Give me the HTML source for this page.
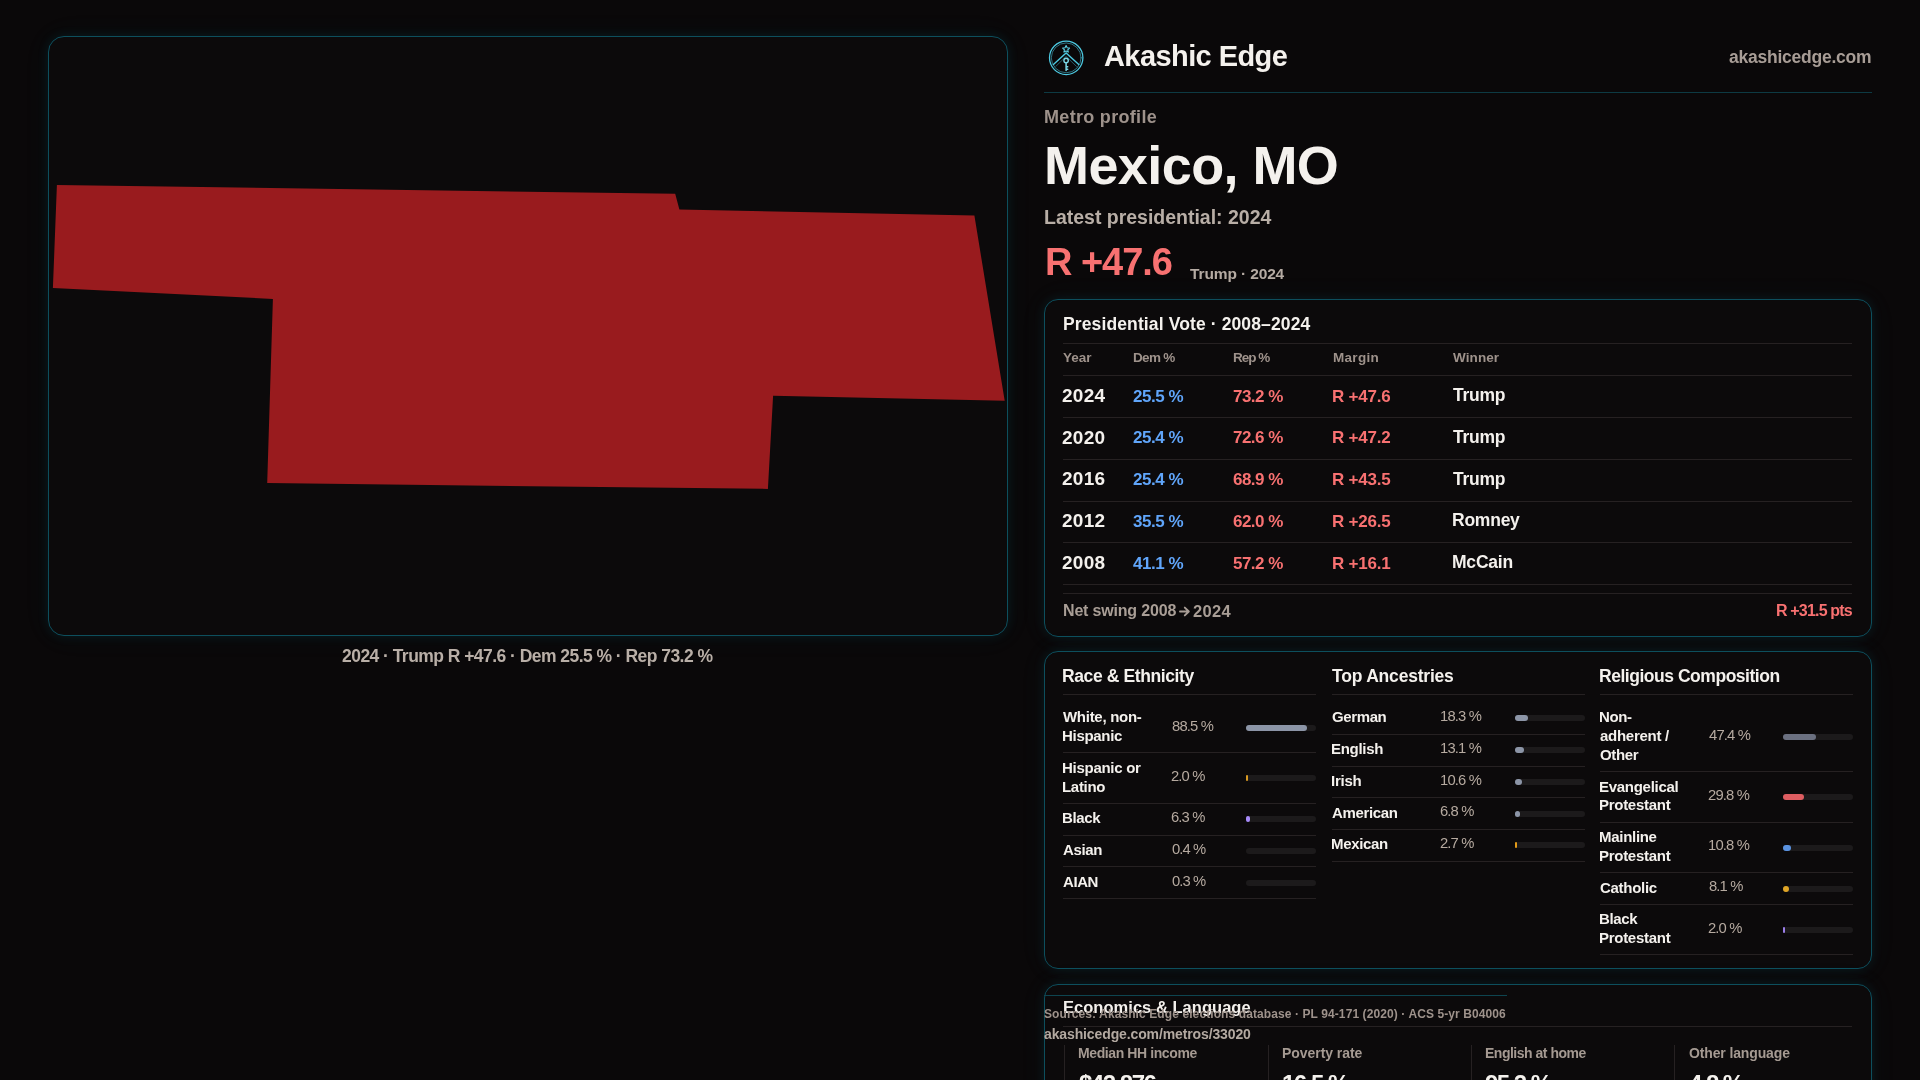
<!DOCTYPE html>
<html><head><meta charset="utf-8"><title>Mexico, MO — Akashic Edge</title>
<style>
html,body{margin:0;padding:0}
body{width:1920px;height:1080px;overflow:hidden;background:#0a0809;position:relative;font-family:"Liberation Sans",sans-serif}
.abs{position:absolute}
.t{position:absolute;white-space:nowrap;line-height:1;will-change:transform}
.card{position:absolute;box-sizing:border-box;background:#0c0a0b;border:1px solid #0d4f5d;box-shadow:0 0 12px rgba(20,150,170,0.12),0 0 30px rgba(20,150,170,0.05)}
</style></head><body>
<div class="card" style="left:48px;top:36px;width:960px;height:600px;border-radius:16px"></div>
<svg class="abs" width="1920" height="1080" style="left:0;top:0"><polygon points="56.9,185.0 675.2,193.8 679.4,209.6 974.4,215.6 1004.7,400.8 773.1,395.8 767.9,488.9 267.2,483.1 272.9,298.9 52.9,288.0" fill="#991b1e"/></svg>
<div class="t" style="left:342.27px;top:647.88px;font-size:17.5px;font-weight:700;color:#b9afa7;letter-spacing:-0.542px;">2024 · Trump R +47.6 · Dem 25.5 % · Rep 73.2 %</div>
<svg class="abs" style="left:1046px;top:38px" width="40" height="40" viewBox="0 0 40 40">
<g fill="none" stroke="#4cc8e0" stroke-linecap="round">
<circle cx="20.2" cy="19.85" r="16.7" stroke-width="1.3"/><circle cx="20.2" cy="19.85" r="14.9" stroke-width="0.8" opacity="0.7"/>
<path d="M7.4 26.4 L20.1 14.9 L32.8 26.4" stroke-width="1.4"/>
<path d="M9.8 28.4 L20.1 18.4 L30.4 28.4" stroke-width="0.8" opacity="0.55"/>
<circle cx="20.1" cy="22.5" r="2.2" stroke="#7ad6e6" stroke-width="1.4"/>
<path d="M20.1 24.7 V32.4 M20.1 28.8 h1.6 M20.1 31.2 h1.6" stroke="#7ad6e6" stroke-width="1.5"/>
<path d="M20.1 7.6 l1.05 2.2 2.4 .3 -1.75 1.65 .45 2.35 -2.15 -1.15 -2.15 1.15 .45 -2.35 -1.75 -1.65 2.4 -.3z" stroke="#5ccee3" stroke-width="1.1" stroke-linejoin="round"/>
</g>
</svg>
<div class="t" style="left:1104.35px;top:41.65px;font-size:29px;font-weight:700;color:#f4f1ed;letter-spacing:-0.580px;">Akashic Edge</div>
<div class="t" style="left:1728.70px;top:48.88px;font-size:17.5px;font-weight:700;color:#a89d96;letter-spacing:-0.241px;">akashicedge.com</div>
<div class="abs" style="left:1044px;top:92px;width:828px;height:1px;background:#0d3a43"></div>
<div class="t" style="left:1043.58px;top:108.46px;font-size:18px;font-weight:700;color:#9e928b;letter-spacing:0.312px;">Metro profile</div>
<div class="t" style="left:1043.97px;top:138.28px;font-size:54px;font-weight:700;color:#f4f1ed;letter-spacing:-0.583px;">Mexico, MO</div>
<div class="t" style="left:1043.55px;top:207.79px;font-size:19.5px;font-weight:700;color:#b8aea6;letter-spacing:-0.010px;">Latest presidential: 2024</div>
<div class="t" style="left:1044.50px;top:243.23px;font-size:38px;font-weight:700;color:#f87171;letter-spacing:-1.042px;">R +47.6</div>
<div class="t" style="left:1189.58px;top:266.28px;font-size:15.5px;font-weight:700;color:#b5aba3;letter-spacing:-0.125px;">Trump · 2024</div>
<div class="card" style="left:1044px;top:299px;width:828px;height:338px;border-radius:14px"></div>
<div class="t" style="left:1062.78px;top:315.98px;font-size:17.5px;font-weight:700;color:#f4f1ed;letter-spacing:0.121px;">Presidential Vote · 2008–2024</div>
<div class="abs" style="left:1063px;top:343px;width:789px;height:1px;background:#262122"></div>
<div class="t" style="left:1063.25px;top:351.47px;font-size:13.5px;font-weight:700;color:#9e928b;letter-spacing:-0.042px;">Year</div>
<div class="t" style="left:1132.62px;top:351.47px;font-size:13.5px;font-weight:700;color:#9e928b;letter-spacing:-0.688px;">Dem %</div>
<div class="t" style="left:1232.62px;top:351.47px;font-size:13.5px;font-weight:700;color:#9e928b;letter-spacing:-1.000px;">Rep %</div>
<div class="t" style="left:1332.62px;top:351.47px;font-size:13.5px;font-weight:700;color:#9e928b;letter-spacing:0.300px;">Margin</div>
<div class="t" style="left:1453.30px;top:351.47px;font-size:13.5px;font-weight:700;color:#9e928b;letter-spacing:0.100px;">Winner</div>
<div class="abs" style="left:1063px;top:375px;width:789px;height:1px;background:#262122"></div>
<div class="t" style="left:1062.47px;top:385.81px;font-size:19px;font-weight:700;color:#f4f1ed;letter-spacing:0.258px;">2024</div>
<div class="t" style="left:1132.58px;top:387.51px;font-size:17px;font-weight:700;color:#60a5fa;letter-spacing:-0.470px;">25.5 %</div>
<div class="t" style="left:1232.75px;top:387.51px;font-size:17px;font-weight:700;color:#f87171;letter-spacing:-0.525px;">73.2 %</div>
<div class="t" style="left:1332.38px;top:387.51px;font-size:17px;font-weight:700;color:#f87171;letter-spacing:-0.208px;">R +47.6</div>
<div class="t" style="left:1453.17px;top:387.08px;font-size:17.5px;font-weight:700;color:#f4f1ed;letter-spacing:-0.231px;">Trump</div>
<div class="abs" style="left:1063px;top:417px;width:789px;height:1px;background:#262122"></div>
<div class="t" style="left:1062.47px;top:427.56px;font-size:19px;font-weight:700;color:#f4f1ed;letter-spacing:0.254px;">2020</div>
<div class="t" style="left:1132.58px;top:429.26px;font-size:17px;font-weight:700;color:#60a5fa;letter-spacing:-0.470px;">25.4 %</div>
<div class="t" style="left:1232.75px;top:429.26px;font-size:17px;font-weight:700;color:#f87171;letter-spacing:-0.525px;">72.6 %</div>
<div class="t" style="left:1332.38px;top:429.26px;font-size:17px;font-weight:700;color:#f87171;letter-spacing:-0.208px;">R +47.2</div>
<div class="t" style="left:1453.17px;top:428.83px;font-size:17.5px;font-weight:700;color:#f4f1ed;letter-spacing:-0.231px;">Trump</div>
<div class="abs" style="left:1063px;top:459px;width:789px;height:1px;background:#262122"></div>
<div class="t" style="left:1062.47px;top:469.31px;font-size:19px;font-weight:700;color:#f4f1ed;letter-spacing:0.254px;">2016</div>
<div class="t" style="left:1132.58px;top:471.01px;font-size:17px;font-weight:700;color:#60a5fa;letter-spacing:-0.470px;">25.4 %</div>
<div class="t" style="left:1232.88px;top:471.01px;font-size:17px;font-weight:700;color:#f87171;letter-spacing:-0.526px;">68.9 %</div>
<div class="t" style="left:1332.38px;top:471.01px;font-size:17px;font-weight:700;color:#f87171;letter-spacing:-0.209px;">R +43.5</div>
<div class="t" style="left:1453.17px;top:470.58px;font-size:17.5px;font-weight:700;color:#f4f1ed;letter-spacing:-0.231px;">Trump</div>
<div class="abs" style="left:1063px;top:501px;width:789px;height:1px;background:#262122"></div>
<div class="t" style="left:1062.47px;top:511.06px;font-size:19px;font-weight:700;color:#f4f1ed;letter-spacing:0.254px;">2012</div>
<div class="t" style="left:1132.83px;top:512.76px;font-size:17px;font-weight:700;color:#60a5fa;letter-spacing:-0.472px;">35.5 %</div>
<div class="t" style="left:1232.88px;top:512.76px;font-size:17px;font-weight:700;color:#f87171;letter-spacing:-0.526px;">62.0 %</div>
<div class="t" style="left:1332.38px;top:512.76px;font-size:17px;font-weight:700;color:#f87171;letter-spacing:-0.209px;">R +26.5</div>
<div class="t" style="left:1452.17px;top:512.33px;font-size:17.5px;font-weight:700;color:#f4f1ed;letter-spacing:-0.238px;">Romney</div>
<div class="abs" style="left:1063px;top:542px;width:789px;height:1px;background:#262122"></div>
<div class="t" style="left:1062.47px;top:552.81px;font-size:19px;font-weight:700;color:#f4f1ed;letter-spacing:0.255px;">2008</div>
<div class="t" style="left:1132.95px;top:554.51px;font-size:17px;font-weight:700;color:#60a5fa;letter-spacing:-0.473px;">41.1 %</div>
<div class="t" style="left:1233.00px;top:554.51px;font-size:17px;font-weight:700;color:#f87171;letter-spacing:-0.528px;">57.2 %</div>
<div class="t" style="left:1332.38px;top:554.51px;font-size:17px;font-weight:700;color:#f87171;letter-spacing:-0.209px;">R +16.1</div>
<div class="t" style="left:1452.17px;top:554.08px;font-size:17.5px;font-weight:700;color:#f4f1ed;letter-spacing:-0.211px;">McCain</div>
<div class="abs" style="left:1063px;top:584px;width:789px;height:1px;background:#262122"></div>
<div class="abs" style="left:1063px;top:593px;width:789px;height:1px;background:#262122"></div>
<div class="t" style="left:1062.75px;top:603.35px;font-size:16px;font-weight:700;color:#a99e96;letter-spacing:-0.179px;">Net swing 2008</div>
<svg class="abs" style="left:1179px;top:606px" width="12" height="11" viewBox="0 0 12 11"><path d="M1 5.5 H9.5 M5.8 1.6 L9.8 5.5 L5.8 9.4" fill="none" stroke="#a99e96" stroke-width="1.9" stroke-linecap="round" stroke-linejoin="round"/></svg>
<div class="t" style="left:1192.90px;top:602.93px;font-size:16.5px;font-weight:700;color:#a99e96;letter-spacing:0.358px;">2024</div>
<div class="t" style="left:1775.50px;top:603.35px;font-size:16px;font-weight:700;color:#f87171;letter-spacing:-0.825px;">R +31.5 pts</div>
<div class="card" style="left:1044px;top:651px;width:828px;height:318px;border-radius:14px"></div>
<div class="t" style="left:1062.38px;top:667.68px;font-size:17.5px;font-weight:700;color:#f4f1ed;letter-spacing:-0.392px;">Race &amp; Ethnicity</div>
<div class="abs" style="left:1063px;top:694px;width:253px;height:1px;background:#262122"></div>
<div class="t" style="left:1063.30px;top:709.30px;font-size:15px;font-weight:700;color:#f4f1ed;letter-spacing:-0.284px;">White, non-</div>
<div class="t" style="left:1062.30px;top:728.05px;font-size:15px;font-weight:700;color:#f4f1ed;letter-spacing:-0.305px;">Hispanic</div>
<div class="t" style="left:1171.58px;top:718.52px;font-size:14.8px;font-weight:400;color:#b6aaa0;letter-spacing:-0.829px;">88.5 %</div>
<div class="abs" style="left:1246px;top:724.75px;width:70px;height:6px;border-radius:3px;background:#1c1a1b"></div>
<div class="abs" style="left:1246px;top:724.75px;width:61.33px;height:6px;border-radius:3px;background:#8c95a7"></div>
<div class="abs" style="left:1063px;top:752px;width:253px;height:1px;background:#262122"></div>
<div class="t" style="left:1062.30px;top:759.80px;font-size:15px;font-weight:700;color:#f4f1ed;letter-spacing:-0.282px;">Hispanic or</div>
<div class="t" style="left:1062.30px;top:778.55px;font-size:15px;font-weight:700;color:#f4f1ed;letter-spacing:-0.305px;">Latino</div>
<div class="t" style="left:1171.45px;top:769.02px;font-size:14.8px;font-weight:400;color:#b6aaa0;letter-spacing:-0.865px;">2.0 %</div>
<div class="abs" style="left:1246px;top:775.25px;width:70px;height:6px;border-radius:3px;background:#1c1a1b"></div>
<div class="abs" style="left:1246px;top:775.25px;width:1.50px;height:6px;border-radius:1px;background:#d99a22"></div>
<div class="abs" style="left:1063px;top:803px;width:253px;height:1px;background:#262122"></div>
<div class="t" style="left:1062.30px;top:810.30px;font-size:15px;font-weight:700;color:#f4f1ed;letter-spacing:-0.341px;">Black</div>
<div class="t" style="left:1171.45px;top:810.14px;font-size:14.8px;font-weight:400;color:#b6aaa0;letter-spacing:-0.865px;">6.3 %</div>
<div class="abs" style="left:1246px;top:816.38px;width:70px;height:6px;border-radius:3px;background:#1c1a1b"></div>
<div class="abs" style="left:1246px;top:816.38px;width:4.41px;height:6px;border-radius:3px;background:#a78bfa"></div>
<div class="abs" style="left:1063px;top:835px;width:253px;height:1px;background:#262122"></div>
<div class="t" style="left:1062.92px;top:842.05px;font-size:15px;font-weight:700;color:#f4f1ed;letter-spacing:-0.346px;">Asian</div>
<div class="t" style="left:1171.70px;top:841.89px;font-size:14.8px;font-weight:400;color:#b6aaa0;letter-spacing:-0.899px;">0.4 %</div>
<div class="abs" style="left:1246px;top:848.12px;width:70px;height:6px;border-radius:3px;background:#1c1a1b"></div>
<div class="abs" style="left:1063px;top:866px;width:253px;height:1px;background:#262122"></div>
<div class="t" style="left:1062.92px;top:873.80px;font-size:15px;font-weight:700;color:#f4f1ed;letter-spacing:-0.413px;">AIAN</div>
<div class="t" style="left:1171.70px;top:873.64px;font-size:14.8px;font-weight:400;color:#b6aaa0;letter-spacing:-0.899px;">0.3 %</div>
<div class="abs" style="left:1246px;top:879.88px;width:70px;height:6px;border-radius:3px;background:#1c1a1b"></div>
<div class="abs" style="left:1063px;top:898px;width:253px;height:1px;background:#262122"></div>
<div class="t" style="left:1332.38px;top:667.68px;font-size:17.5px;font-weight:700;color:#f4f1ed;letter-spacing:-0.202px;">Top Ancestries</div>
<div class="abs" style="left:1332px;top:694px;width:253px;height:1px;background:#262122"></div>
<div class="t" style="left:1331.67px;top:709.30px;font-size:15px;font-weight:700;color:#f4f1ed;letter-spacing:-0.386px;">German</div>
<div class="t" style="left:1440.08px;top:709.14px;font-size:14.8px;font-weight:400;color:#b6aaa0;letter-spacing:-0.818px;">18.3 %</div>
<div class="abs" style="left:1515px;top:715.38px;width:70px;height:6px;border-radius:3px;background:#1c1a1b"></div>
<div class="abs" style="left:1515px;top:715.38px;width:12.81px;height:6px;border-radius:3px;background:#8c95a7"></div>
<div class="abs" style="left:1332px;top:734px;width:253px;height:1px;background:#262122"></div>
<div class="t" style="left:1331.30px;top:741.05px;font-size:15px;font-weight:700;color:#f4f1ed;letter-spacing:-0.305px;">English</div>
<div class="t" style="left:1440.08px;top:740.89px;font-size:14.8px;font-weight:400;color:#b6aaa0;letter-spacing:-0.818px;">13.1 %</div>
<div class="abs" style="left:1515px;top:747.12px;width:70px;height:6px;border-radius:3px;background:#1c1a1b"></div>
<div class="abs" style="left:1515px;top:747.12px;width:9.17px;height:6px;border-radius:3px;background:#8c95a7"></div>
<div class="abs" style="left:1332px;top:766px;width:253px;height:1px;background:#262122"></div>
<div class="t" style="left:1331.30px;top:772.80px;font-size:15px;font-weight:700;color:#f4f1ed;letter-spacing:-0.260px;">Irish</div>
<div class="t" style="left:1440.08px;top:772.64px;font-size:14.8px;font-weight:400;color:#b6aaa0;letter-spacing:-0.818px;">10.6 %</div>
<div class="abs" style="left:1515px;top:778.88px;width:70px;height:6px;border-radius:3px;background:#1c1a1b"></div>
<div class="abs" style="left:1515px;top:778.88px;width:7.42px;height:6px;border-radius:3px;background:#8c95a7"></div>
<div class="abs" style="left:1332px;top:797px;width:253px;height:1px;background:#262122"></div>
<div class="t" style="left:1331.92px;top:804.55px;font-size:15px;font-weight:700;color:#f4f1ed;letter-spacing:-0.336px;">American</div>
<div class="t" style="left:1440.45px;top:804.39px;font-size:14.8px;font-weight:400;color:#b6aaa0;letter-spacing:-0.865px;">6.8 %</div>
<div class="abs" style="left:1515px;top:810.62px;width:70px;height:6px;border-radius:3px;background:#1c1a1b"></div>
<div class="abs" style="left:1515px;top:810.62px;width:4.76px;height:6px;border-radius:3px;background:#8c95a7"></div>
<div class="abs" style="left:1332px;top:829px;width:253px;height:1px;background:#262122"></div>
<div class="t" style="left:1331.30px;top:836.30px;font-size:15px;font-weight:700;color:#f4f1ed;letter-spacing:-0.334px;">Mexican</div>
<div class="t" style="left:1440.45px;top:836.14px;font-size:14.8px;font-weight:400;color:#b6aaa0;letter-spacing:-0.865px;">2.7 %</div>
<div class="abs" style="left:1515px;top:842.38px;width:70px;height:6px;border-radius:3px;background:#1c1a1b"></div>
<div class="abs" style="left:1515px;top:842.38px;width:1.89px;height:6px;border-radius:1px;background:#e39b18"></div>
<div class="abs" style="left:1332px;top:861px;width:253px;height:1px;background:#262122"></div>
<div class="t" style="left:1599.38px;top:667.68px;font-size:17.5px;font-weight:700;color:#f4f1ed;letter-spacing:-0.469px;">Religious Composition</div>
<div class="abs" style="left:1600px;top:694px;width:253px;height:1px;background:#262122"></div>
<div class="t" style="left:1599.30px;top:709.30px;font-size:15px;font-weight:700;color:#f4f1ed;letter-spacing:-0.379px;">Non-</div>
<div class="t" style="left:1599.92px;top:728.05px;font-size:15px;font-weight:700;color:#f4f1ed;letter-spacing:-0.277px;">adherent /</div>
<div class="t" style="left:1599.67px;top:746.80px;font-size:15px;font-weight:700;color:#f4f1ed;letter-spacing:-0.342px;">Other</div>
<div class="t" style="left:1708.83px;top:727.89px;font-size:14.8px;font-weight:400;color:#b6aaa0;letter-spacing:-0.834px;">47.4 %</div>
<div class="abs" style="left:1783px;top:734.12px;width:70px;height:6px;border-radius:3px;background:#1c1a1b"></div>
<div class="abs" style="left:1783px;top:734.12px;width:33.18px;height:6px;border-radius:3px;background:#6b7080"></div>
<div class="abs" style="left:1600px;top:771px;width:253px;height:1px;background:#262122"></div>
<div class="t" style="left:1599.30px;top:778.55px;font-size:15px;font-weight:700;color:#f4f1ed;letter-spacing:-0.282px;">Evangelical</div>
<div class="t" style="left:1599.30px;top:797.30px;font-size:15px;font-weight:700;color:#f4f1ed;letter-spacing:-0.284px;">Protestant</div>
<div class="t" style="left:1708.45px;top:787.77px;font-size:14.8px;font-weight:400;color:#b6aaa0;letter-spacing:-0.826px;">29.8 %</div>
<div class="abs" style="left:1783px;top:794.00px;width:70px;height:6px;border-radius:3px;background:#1c1a1b"></div>
<div class="abs" style="left:1783px;top:794.00px;width:20.86px;height:6px;border-radius:3px;background:#de5d61"></div>
<div class="abs" style="left:1600px;top:822px;width:253px;height:1px;background:#262122"></div>
<div class="t" style="left:1599.30px;top:829.05px;font-size:15px;font-weight:700;color:#f4f1ed;letter-spacing:-0.292px;">Mainline</div>
<div class="t" style="left:1599.30px;top:847.80px;font-size:15px;font-weight:700;color:#f4f1ed;letter-spacing:-0.284px;">Protestant</div>
<div class="t" style="left:1708.08px;top:838.27px;font-size:14.8px;font-weight:400;color:#b6aaa0;letter-spacing:-0.818px;">10.8 %</div>
<div class="abs" style="left:1783px;top:844.50px;width:70px;height:6px;border-radius:3px;background:#1c1a1b"></div>
<div class="abs" style="left:1783px;top:844.50px;width:7.56px;height:6px;border-radius:3px;background:#5a92e0"></div>
<div class="abs" style="left:1600px;top:872px;width:253px;height:1px;background:#262122"></div>
<div class="t" style="left:1599.67px;top:879.55px;font-size:15px;font-weight:700;color:#f4f1ed;letter-spacing:-0.291px;">Catholic</div>
<div class="t" style="left:1708.58px;top:879.39px;font-size:14.8px;font-weight:400;color:#b6aaa0;letter-spacing:-0.868px;">8.1 %</div>
<div class="abs" style="left:1783px;top:885.62px;width:70px;height:6px;border-radius:3px;background:#1c1a1b"></div>
<div class="abs" style="left:1783px;top:885.62px;width:5.67px;height:6px;border-radius:3px;background:#e0a526"></div>
<div class="abs" style="left:1600px;top:904px;width:253px;height:1px;background:#262122"></div>
<div class="t" style="left:1599.30px;top:911.30px;font-size:15px;font-weight:700;color:#f4f1ed;letter-spacing:-0.341px;">Black</div>
<div class="t" style="left:1599.30px;top:930.05px;font-size:15px;font-weight:700;color:#f4f1ed;letter-spacing:-0.284px;">Protestant</div>
<div class="t" style="left:1708.45px;top:920.52px;font-size:14.8px;font-weight:400;color:#b6aaa0;letter-spacing:-0.865px;">2.0 %</div>
<div class="abs" style="left:1783px;top:926.75px;width:70px;height:6px;border-radius:3px;background:#1c1a1b"></div>
<div class="abs" style="left:1783px;top:926.75px;width:1.50px;height:6px;border-radius:1px;background:#9b7ee8"></div>
<div class="abs" style="left:1600px;top:954px;width:253px;height:1px;background:#262122"></div>
<div class="card" style="left:1044px;top:984px;width:828px;height:200px;border-radius:14px"></div>
<div class="t" style="left:1062.67px;top:998.93px;font-size:16.5px;font-weight:700;color:#f4f1ed;letter-spacing:0.033px;">Economics &amp; Language</div>
<div class="abs" style="left:1063px;top:1026px;width:789px;height:1px;background:#262122"></div>
<div class="abs" style="left:1063.5px;top:1045px;width:1px;height:60px;background:#262122"></div>
<div class="t" style="left:1077.83px;top:1046.15px;font-size:14px;font-weight:700;color:#a59a92;letter-spacing:-0.400px;">Median HH income</div>
<div class="t" style="left:1078.62px;top:1071.68px;font-size:24px;font-weight:700;color:#f4f1ed;letter-spacing:-1.475px;">$42,876</div>
<div class="abs" style="left:1267.5px;top:1045px;width:1px;height:60px;background:#262122"></div>
<div class="t" style="left:1281.83px;top:1046.15px;font-size:14px;font-weight:700;color:#a59a92;letter-spacing:-0.057px;">Poverty rate</div>
<div class="t" style="left:1281.50px;top:1071.68px;font-size:24px;font-weight:700;color:#f4f1ed;letter-spacing:-1.496px;">16.5 %</div>
<div class="abs" style="left:1470.5px;top:1045px;width:1px;height:60px;background:#262122"></div>
<div class="t" style="left:1484.83px;top:1046.15px;font-size:14px;font-weight:700;color:#a59a92;letter-spacing:-0.491px;">English at home</div>
<div class="t" style="left:1485.12px;top:1071.68px;font-size:24px;font-weight:700;color:#f4f1ed;letter-spacing:-1.513px;">95.2 %</div>
<div class="abs" style="left:1674px;top:1045px;width:1px;height:60px;background:#262122"></div>
<div class="t" style="left:1688.70px;top:1046.15px;font-size:14px;font-weight:700;color:#a59a92;letter-spacing:-0.135px;">Other language</div>
<div class="t" style="left:1689.12px;top:1071.68px;font-size:24px;font-weight:700;color:#f4f1ed;letter-spacing:-1.549px;">4.8 %</div>
<div class="abs" style="left:1044px;top:995px;width:463px;height:1px;background:#0e4550"></div>
<div class="t" style="left:1044.22px;top:1007.54px;font-size:12px;font-weight:700;color:#9e928b;letter-spacing:0.097px;">Sources: Akashic Edge elections database · PL 94-171 (2020) · ACS 5-yr B04006</div>
<div class="t" style="left:1044.22px;top:1026.55px;font-size:14px;font-weight:700;color:#b3a9a1;letter-spacing:-0.120px;">akashicedge.com/metros/33020</div>
</body></html>
